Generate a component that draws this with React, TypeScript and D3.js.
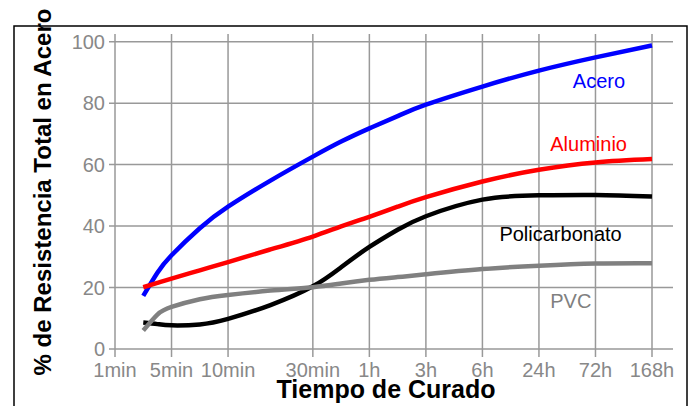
import React from 'react';
import * as d3 from 'd3';

// categorical time ticks, with their position on the (uneven) axis
const tickLabels = ['1min', '5min', '10min', '30min', '1h', '3h', '6h', '24h', '72h', '168h'];
const tickPos = [0, 1, 2, 3.5, 4.5, 5.5, 6.5, 7.5, 8.5, 9.5];
const yTicks = [0, 20, 40, 60, 80, 100];

// sample positions along the time axis (same units as tickPos)
const samplePos = [0.5, 0.75, 1, 1.5, 2, 2.75, 3.5, 4, 4.5, 5, 5.5, 6.5, 7.5, 8.5, 9.5];

const acero = [17.3, 24.8, 30.5, 39.3, 46.3, 54.8, 62.6, 67.5, 71.8, 75.8, 79.5, 85.4, 90.6, 94.9, 98.8];
const aluminio = [20.1, 21.5, 22.9, 25.6, 28.3, 32.4, 36.6, 39.9, 43, 46.3, 49.4, 54.5, 58.3, 60.7, 61.8];
const policarbonato = [8.6, 8.1, 7.7, 8.0, 9.8, 14.3, 20.4, 26.6, 33.2, 38.8, 43.2, 48.6, 50, 50.1, 49.6];
const pvc = [6, 11.2, 13.7, 16.2, 17.6, 19, 20.1, 21.3, 22.5, 23.4, 24.3, 26, 27.1, 27.8, 27.9];

const series = [
  { name: 'Acero', values: acero, color: '#0000ff', labelPos: 8.1, labelVal: 85 },
  { name: 'Aluminio', values: aluminio, color: '#ff0000', labelPos: 7.7, labelVal: 64.5 },
  { name: 'Policarbonato', values: policarbonato, color: '#000000', labelPos: 6.8, labelVal: 35.2 },
  { name: 'PVC', values: pvc, color: '#808080', labelPos: 7.7, labelVal: 13.3 },
];

const App = () => {
  const x = d3.scaleLinear().domain([0, 9.5]).range([115, 652]);
  const y = d3.scaleLinear().domain([0, 100]).range([349, 41.7]);

  const line = d3.line<[number, number]>()
    .x(d => x(d[0]))
    .y(d => y(d[1]))
    .curve(d3.curveNatural);

  const font = 'Arial, "Liberation Sans", sans-serif';
  const grid = '#999999';

  return (
    <svg width={692} height={406} style={{ position: 'absolute', left: 0, top: 0 }} fontFamily={font}>
      <rect x={14} y={26} width={673} height={400} fill="white" stroke="black" strokeWidth={1.5} />

      {/* grid */}
      {yTicks.map(t => (
        <line key={'h' + t} x1={109} x2={673} y1={y(t)} y2={y(t)} stroke={grid} strokeWidth={1.5} />
      ))}
      {tickPos.map((p, i) => (
        <line key={'v' + i} x1={x(p)} x2={x(p)} y1={34} y2={357} stroke={grid} strokeWidth={1.5} />
      ))}

      {/* tick labels */}
      {yTicks.map(t => (
        <text key={'yl' + t} x={105} y={y(t)} dy="0.36em" textAnchor="end" fontSize={20} fill="#888888">{t}</text>
      ))}
      {tickLabels.map((l, i) => (
        <text key={'xl' + i} x={x(tickPos[i])} y={377} textAnchor="middle" fontSize={20} fill="#888888">{l}</text>
      ))}

      {/* series */}
      {series.map(s => (
        <path
          key={s.name}
          d={line(samplePos.map((p, i) => [p, s.values[i]] as [number, number])) || ''}
          fill="none"
          stroke={s.color}
          strokeWidth={4.5}
        />
      ))}
      {series.map(s => (
        <text key={'lab' + s.name} x={x(s.labelPos)} y={y(s.labelVal)} fontSize={20} fill={s.color}>{s.name}</text>
      ))}

      {/* axis titles */}
      <text x={386} y={398} textAnchor="middle" fontSize={25} fontWeight="bold">Tiempo de Curado</text>
      <text transform="translate(51,192) rotate(-90)" textAnchor="middle" fontSize={24} fontWeight="bold">
        % de Resistencia Total en Acero
      </text>
    </svg>
  );
};

export default App;
